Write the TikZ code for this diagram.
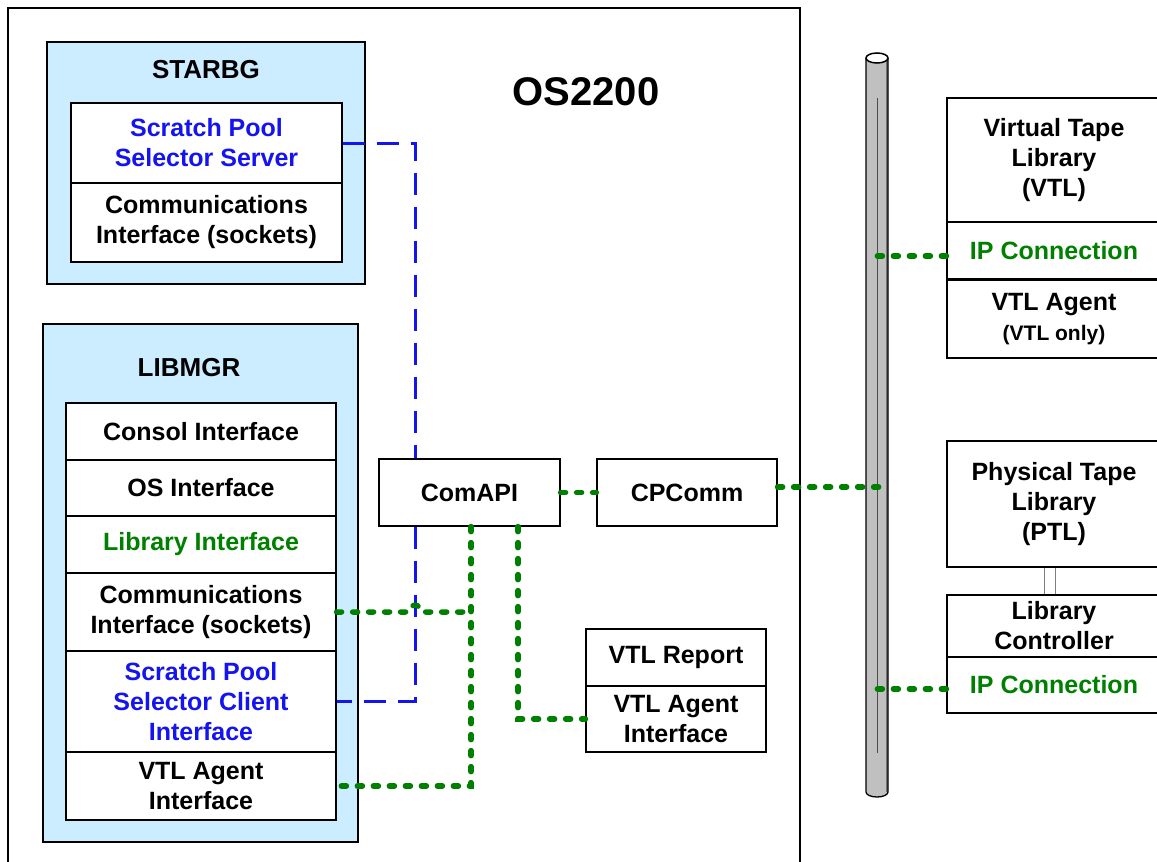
\documentclass[tikz,border=0pt]{standalone}
\usepackage{fontspec}
\setmainfont{Liberation Sans}
\definecolor{lblue}{RGB}{204,236,255}
\definecolor{tblue}{RGB}{20,20,240}
\definecolor{tgreen}{RGB}{0,128,0}
\definecolor{cylgray}{RGB}{192,192,192}
\newcommand\bigf{\fontsize{25}{30}\selectfont\bfseries}
\begin{document}
\begin{tikzpicture}[x=1pt,y=-1pt,
  box/.style={draw, line width=1.2pt, fill=white, inner sep=0pt, align=center, font=\bigf},
  outerbox/.style={draw, line width=1.2pt, fill=lblue, inner sep=0pt},
  lbl/.style={inner sep=0pt, align=center, font=\bigf},
  blueline/.style={draw=tblue, line width=3pt, dash pattern=on 22pt off 12pt},
  greenline/.style={draw=tgreen, line width=5.5pt, line cap=round, dash pattern=on 5pt off 11pt}]
\useasboundingbox (0,0) rectangle (1157,862);
\fill[white] (0,0) rectangle (1157,862);
% OS2200 frame
\draw[line width=1.2pt] (8,880) -- (8,8) -- (800,8) -- (800,880);
\node[inner sep=0pt, font=\fontsize{40}{44}\selectfont\bfseries] (ostitle) at (586,92) {OS2200};
% STARBG
\node[outerbox, minimum width=318, minimum height=242] (starbg) at (206,163) {};
\node[lbl, font=\fontsize{26}{30}\selectfont\bfseries] (starbgt) at (206,70) {STARBG};
\node[box, minimum width=271, minimum height=80, text=tblue] (sserver) at (206.5,143) {Scratch Pool\\Selector Server};
\node[box, minimum width=271, minimum height=79] (scomm) at (206.5,222.5) {Communications\\Interface (sockets)};
% LIBMGR
\node[outerbox, minimum width=315, minimum height=518] (libmgr) at (200.5,583) {};
\node[lbl, font=\fontsize{26}{30}\selectfont\bfseries] (libmgrt) at (189,368) {LIBMGR};
\node[box, minimum width=270, minimum height=57] (lconsol) at (201,431.5) {Consol Interface};
\node[box, minimum width=270, minimum height=56] (los) at (201,488) {OS Interface};
\node[box, minimum width=270, minimum height=57, text=tgreen] (llib) at (201,544.5) {Library Interface};
\node[box, minimum width=270, minimum height=78] (lcomm) at (201,612) {Communications\\Interface (sockets)};
\node[box, minimum width=270, minimum height=101, text=tblue] (sclient) at (201,701.5) {Scratch Pool\\Selector Client\\Interface};
\node[box, minimum width=270, minimum height=68] (lvtl) at (201,786) {VTL Agent\\Interface};
% middle boxes
\node[box, minimum width=181, minimum height=67] (comapi) at (469.5,492.5) {ComAPI};
\node[box, minimum width=180, minimum height=67] (cpcomm) at (687,492.5) {CPComm};
\node[box, minimum width=180, minimum height=57] (vtlrep) at (676,657.5) {VTL Report};
\node[box, minimum width=180, minimum height=66] (vtlai) at (676,719) {VTL Agent\\Interface};
% right boxes
\node[box, minimum width=214, minimum height=124] (vtl) at (1054,160) {Virtual Tape\\Library\\(VTL)};
\node[box, minimum width=214, minimum height=57, text=tgreen] (vtlip) at (1054,250.5) {IP Connection};
\node[box, minimum width=214, minimum height=78] (vtlag) at (1054,319) {VTL Agent\\{\fontsize{21}{29}\selectfont\bfseries (VTL only)}};
\node[box, minimum width=214, minimum height=126] (ptl) at (1054,504) {Physical Tape\\Library\\(PTL)};
\node[box, minimum width=214, minimum height=62] (libctrl) at (1054,626) {Library\\Controller};
\node[box, minimum width=214, minimum height=56, text=tgreen] (ptlip) at (1054,685) {IP Connection};
\draw[line width=1pt, gray] ([xshift=-10pt]ptl.south) -- ([xshift=-10pt]libctrl.north);
\draw[line width=1pt, gray] ([xshift=1pt]ptl.south) -- ([xshift=1pt]libctrl.north);
% cylinder bus
\fill[cylgray] (866,58) -- (866,792) arc[start angle=180,end angle=0,x radius=11,y radius=5] -- (888,58) -- cycle;
\draw[line width=2pt, black!55] (886.5,60) -- (886.5,792);
\draw[line width=1.3pt] (866,58) -- (866,792) arc[start angle=180,end angle=0,x radius=11,y radius=5] -- (888,58);
\draw[line width=1.5pt, fill=white] (877,58) ellipse[x radius=11, y radius=5];
\draw[line width=1pt, black!70] (877,98) -- (877,753);
\coordinate (busA) at (879,487);
\coordinate (busB) at (877,256);
\coordinate (busC) at (877,689);
% blue connectors
\draw[blueline] (sserver.east) -| ([xshift=-54.5pt]comapi.north);
\draw[blueline] ([xshift=-54.5pt]comapi.south) |- (sclient.east);
% green connectors
\coordinate (j1) at (471,612);
\draw[greenline] (comapi.east) -- (cpcomm.west);
\draw[greenline] ([yshift=5.5pt]cpcomm.east) -- (busA);
\draw[greenline] ([yshift=-5.5pt]vtlip.west) -- (busB);
\draw[greenline] ([yshift=-4pt]ptlip.west) -- (busC);
\draw[greenline] ([xshift=1.5pt]comapi.south) |- (lvtl.east);
\draw[greenline] ([xshift=48.5pt]comapi.south) |- (vtlai.west);
\draw[greenline] (lcomm.east) -- (408,612) .. controls (410,603) and (420,603) .. (422,612) -- (j1);
\end{tikzpicture}
\end{document}
